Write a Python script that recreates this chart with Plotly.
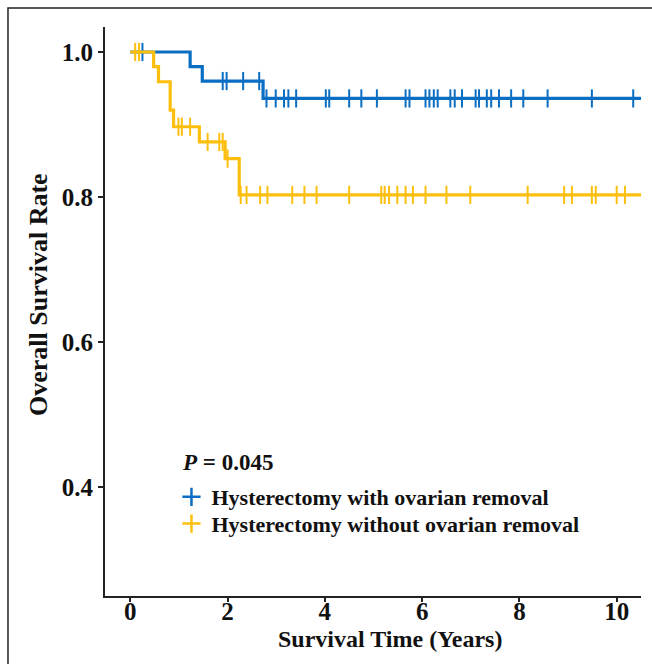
import plotly.graph_objects as go

# ---------------- data ----------------
group_names = ["Hysterectomy with ovarian removal", "Hysterectomy without ovarian removal"]
group_colors = ["#0A6EC2", "#FDBF0F"]

# Group 1: with ovarian removal
with_event_times = [1.23, 1.48, 2.73]
with_survival = [0.980, 0.960, 0.936]
with_censor_times = [0.25, 1.90, 1.98, 2.32, 2.65, 2.80, 2.99, 3.16, 3.25, 3.41, 4.02, 4.09,
                     4.50, 4.75, 5.07, 5.66, 5.74, 6.07, 6.15, 6.24, 6.32, 6.58, 6.67, 6.82,
                     7.10, 7.17, 7.33, 7.42, 7.58, 7.83, 8.08, 8.58, 9.49, 10.34]

# Group 2: without ovarian removal
without_event_times = [0.48, 0.58, 0.82, 0.89, 1.42, 1.95, 2.24]
without_survival = [0.980, 0.959, 0.920, 0.897, 0.876, 0.853, 0.803]
without_censor_times = [0.10, 0.18, 0.99, 1.06, 1.23, 1.59, 1.83, 1.90, 2.00, 2.27, 2.39, 2.67,
                        2.82, 3.33, 3.58, 3.83, 4.50, 5.16, 5.23, 5.32, 5.49, 5.66, 5.81, 6.07,
                        6.50, 6.99, 8.17, 8.92, 9.08, 9.49, 9.57, 10.00, 10.17]

follow_up_end = 10.6
x_ticks = [0, 2, 4, 6, 8, 10]
y_ticks = [0.4, 0.6, 0.8, 1.0]
y_tick_labels = ["0.4", "0.6", "0.8", "1.0"]
p_value_text = "<i>P</i> = 0.045"
x_title = "Survival Time (Years)"
y_title = "Overall Survival Rate"

FONT = "Liberation Serif"
TXT = "#111111"


def step_xy(times, surv):
    xs, ys = [0.0], [1.0]
    level = 1.0
    for t, s in zip(times, surv):
        xs += [t, t]
        ys += [level, s]
        level = s
    xs.append(follow_up_end)
    ys.append(level)
    return xs, ys


def level_at(times, surv, t):
    level = 1.0
    for et, s in zip(times, surv):
        if et <= t:
            level = s
    return level


fig = go.Figure()
groups = [
    (with_event_times, with_survival, with_censor_times),
    (without_event_times, without_survival, without_censor_times),
]
for (ev, sv, cs), name, col in zip(groups, group_names, group_colors):
    xs, ys = step_xy(ev, sv)
    fig.add_trace(go.Scatter(x=xs, y=ys, mode="lines", line=dict(color=col, width=3.2),
                             showlegend=False, hoverinfo="skip"))
    fig.add_trace(go.Scatter(x=cs, y=[level_at(ev, sv, t) for t in cs], mode="markers",
                             marker=dict(symbol="line-ns", size=13,
                                         line=dict(color=col, width=2)),
                             showlegend=False))

# legend entries (one legend box per group for exact row placement)
for name, col, lg in zip(group_names, group_colors, ["legend", "legend2"]):
    fig.add_trace(go.Scatter(x=[None], y=[None], mode="markers", name=name, legend=lg,
                             marker=dict(symbol="cross-thin", size=13,
                                         line=dict(color=col, width=2.5))))

legend_common = dict(x=0.124, xanchor="left", yanchor="middle", bgcolor="rgba(0,0,0,0)",
                     font=dict(family=FONT, size=22, weight="bold", color=TXT),
                     itemwidth=30)

fig.update_layout(
    width=652, height=664,
    margin=dict(l=105, r=11, t=27, b=68),
    paper_bgcolor="white", plot_bgcolor="white",
    font=dict(family=FONT, color=TXT),
    showlegend=True,
    legend=dict(y=0.174, **legend_common),
    legend2=dict(y=0.127, **legend_common),
    xaxis=dict(range=[-0.52, 10.5], tickvals=x_ticks, ticks="outside", ticklen=4,
               tickwidth=1.5, tickcolor="#222222", showline=True, linecolor="#222222",
               linewidth=2, showgrid=False, zeroline=False, ticklabelstandoff=-12,
               tickfont=dict(family=FONT, size=25, weight="bold", color=TXT)),
    yaxis=dict(range=[0.25, 1.0345], tickvals=y_ticks, ticktext=y_tick_labels,
               ticks="outside", ticklen=5, tickwidth=1.5, tickcolor="#222222",
               showline=True, linecolor="#222222", linewidth=2, showgrid=False,
               zeroline=False,
               tickfont=dict(family=FONT, size=25, weight="bold", color=TXT)),
    annotations=[
        dict(text=p_value_text, xref="paper", yref="paper", x=(180 - 105) / 536,
             y=(596 - 462) / 569, xanchor="left", yanchor="middle", showarrow=False,
             font=dict(family=FONT, size=23, weight="bold", color=TXT)),
        dict(text=x_title, xref="paper", yref="paper", x=(390 - 105) / 536,
             y=-(639 - 596) / 569, xanchor="center", yanchor="middle", showarrow=False,
             font=dict(family=FONT, size=24, weight="bold", color=TXT)),
        dict(text=y_title, xref="paper", yref="paper", x=-(105 - 38) / 536,
             y=(596 - 295) / 569, xanchor="center", yanchor="middle", showarrow=False,
             textangle=-90,
             font=dict(family=FONT, size=26, weight="bold", color=TXT)),
    ],
    shapes=[dict(type="rect", xref="paper", yref="paper", x0=-0.181, x1=1.2,
                 y0=-0.2, y1=1.0334, line=dict(color="#222222", width=1.5))],
)

fig.write_html("out.html")
